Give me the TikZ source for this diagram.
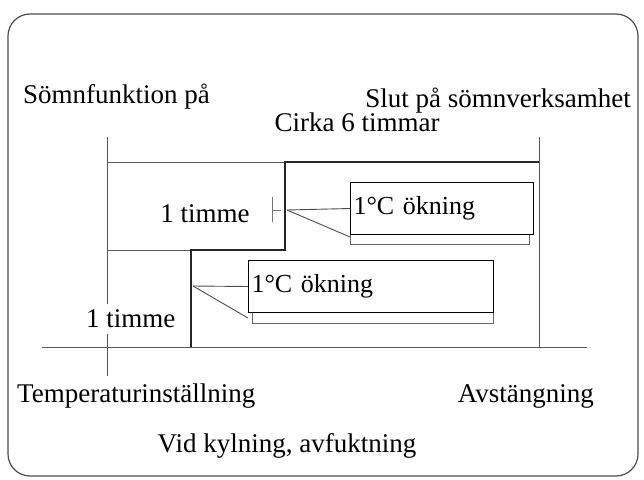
\documentclass[tikz,border=0pt]{standalone}
\usepackage{fontspec}
\setmainfont{Liberation Serif}
\begin{document}
\begin{tikzpicture}[x=1pt,y=-1pt,
  lbl/.style={inner sep=0pt,font=\fontsize{27}{30}\selectfont},
  callout/.style={draw=black,line width=1pt,fill=white,minimum height=52pt,inner sep=2pt,anchor=north west,font=\fontsize{26}{30}\selectfont,text height=18pt},
  shadowbox/.style={draw=black!60,line width=1pt,fill=white},
  thin/.style={draw=black!65,line width=0.9pt},
  thick/.style={draw=black!85,line width=2.2pt},
  ptr/.style={draw=black!70,line width=0.9pt}]
\useasboundingbox (0,0) rectangle (644,479);
% outer frame
\draw[black!70,line width=1.2pt,rounded corners=22pt] (8,14) rectangle (638,476);
% coordinates
\coordinate (lt) at (107,137);
\coordinate (lb) at (107,376);
\coordinate (rt) at (539,137);
\coordinate (rb) at (539,347);
\coordinate (ax1) at (42,347);
\coordinate (ax2) at (587,347);
\coordinate (top1) at (107,162);
\coordinate (top2) at (539,162);
\coordinate (mid1) at (107,250);
\coordinate (s0) at (191,347);
\coordinate (s1) at (191,250);
\coordinate (s2) at (285,250);
\coordinate (s3) at (285,162);
% grid lines
\draw[thin] (lt) -- (lb);
\draw[thin] (rt) -- (rb);
\draw[thin] (ax1) -- (ax2);
\draw[thin] (top1) -- (top2);
\draw[thin] (mid1) -- (s1);
% step profile
\draw[thick,line join=miter] (s0) -- (s1) -- (s2) -- (s3) -- (top2);
% small tick near upper label
\draw[black!55,line width=0.8pt] (272,197) -- (272,222);
\draw[black!55,line width=0.8pt] (272,210) -- (281,210);
% texts
\node[lbl,anchor=west] (on) at (23,97) {Sömnfunktion på};
\node[lbl,anchor=east] (end) at (631,101) {Slut på sömnverksamhet};
\node[lbl] (six) at (357,122) {Cirka 6 timmar};
\node[lbl,fill=white,inner sep=3pt] (h1) at (205,214) {1 timme};
\node[lbl,fill=white,inner xsep=4pt,inner ysep=6pt,anchor=west] (h2) at (82,319) {1 timme};
\draw[thick] (191,300) -- (s0);
% callout 1
\fill[white] (350,192) rectangle (529,244);
\draw[shadowbox] (350,192) rectangle (529,244);
\node[callout,minimum width=183pt,text width=177pt] (c1) at (350,182) {1°C ökning};
\coordinate (p1) at (287,210);
\draw[ptr] (p1) -- (c1.west);
\draw[ptr] (p1) -- ([yshift=-2pt]c1.south west);
% callout 2
\draw[shadowbox] (252,270) rectangle (493,323);
\node[callout,minimum width=245pt,text width=239pt] (c2) at (248,260) {1°C ökning};
\coordinate (p2) at (193,286);
\draw[ptr] (p2) -- (c2.west);
\draw[ptr] (p2) -- ([yshift=-5pt]c2.south west);
% bottom labels
\node[lbl,anchor=west] (temp) at (17,396) {Temperaturinställning};
\node[lbl,anchor=east] (off) at (594,396) {Avstängning};
\node[lbl] (cool) at (287,446) {Vid kylning, avfuktning};
\end{tikzpicture}
\end{document}
